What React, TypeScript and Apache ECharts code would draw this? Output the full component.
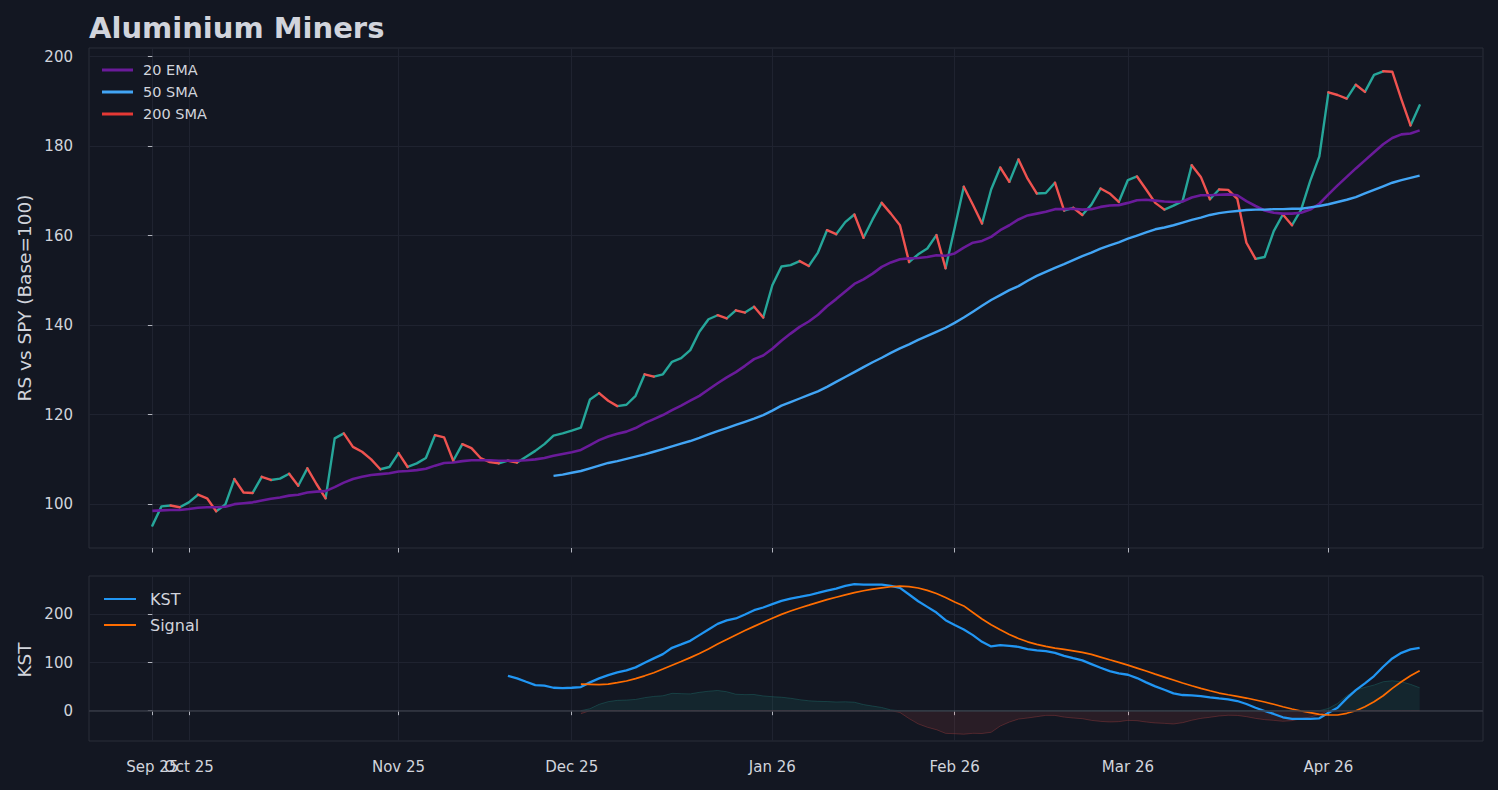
import React, { useEffect, useRef } from "react";
import * as echarts from "echarts";

const tickIdx = [0, 4, 27, 46, 68, 88, 107, 129];
const tickLabels = ["Sep 25", "Oct 25", "Nov 25", "Dec 25", "Jan 26", "Feb 26", "Mar 26", "Apr 26"];
const rsTicks = [100, 120, 140, 160, 180, 200];
const kstTicks = [0, 100, 200];

const rs = [
  95.2, 99.5, 99.7, 99.3, 100.4, 102.1, 101.3, 98.4, 99.9, 105.6,
  102.6, 102.5, 106.1, 105.4, 105.7, 106.8, 104.1, 108.0, 104.5, 101.3,
  114.7, 115.8, 112.8, 111.7, 110.0, 107.8, 108.3, 111.4, 108.3, 109.1,
  110.3, 115.4, 114.9, 109.7, 113.4, 112.5, 110.3, 109.4, 109.1, 109.7,
  109.3, 110.6, 111.9, 113.4, 115.3, 115.8, 116.4, 117.1, 123.4, 124.8,
  123.1, 121.9, 122.2, 124.2, 129.0, 128.5, 129.0, 131.8, 132.6, 134.4,
  138.5, 141.3, 142.2, 141.5, 143.3, 142.8, 144.1, 141.7, 148.9, 153.1,
  153.4, 154.3, 153.2, 156.2, 161.2, 160.3, 163.0, 164.7, 159.5, 163.6,
  167.3, 164.9, 162.3, 154.1, 155.8, 157.1, 160.1, 152.7, 161.7, 170.9,
  166.9, 162.7, 170.3, 175.2, 172.0, 177.0, 172.7, 169.4, 169.5, 171.8,
  165.6, 166.2, 164.6, 166.9, 170.5, 169.4, 167.5, 172.4, 173.2, 170.3,
  167.3, 165.8, 166.7, 167.7, 175.7, 173.1, 168.1, 170.3, 170.2, 168.2,
  158.4, 154.8, 155.2, 161.0, 164.7, 162.3, 165.8, 172.2, 177.7, 192.0,
  191.4, 190.6, 193.7, 192.1, 195.9, 196.7, 196.6, 190.4, 184.6, 189.1,
];

const ema20 = [
  98.5, 98.6, 98.7, 98.7, 98.9, 99.2, 99.3, 99.3, 99.4, 100.0,
  100.2, 100.4, 100.8, 101.2, 101.5, 101.9, 102.1, 102.6, 102.8, 102.9,
  103.8, 104.8, 105.6, 106.1, 106.5, 106.7, 106.9, 107.3, 107.4, 107.6,
  107.9, 108.6, 109.2, 109.3, 109.6, 109.8, 109.8, 109.8, 109.7, 109.7,
  109.7, 109.8, 110.0, 110.3, 110.8, 111.2, 111.6, 112.1, 113.2, 114.3,
  115.1, 115.7, 116.2, 117.0, 118.1, 119.0, 119.9, 121.0, 122.0, 123.1,
  124.2, 125.6, 127.0, 128.3, 129.5, 130.9, 132.4, 133.2, 134.7, 136.5,
  138.1, 139.6, 140.8, 142.3, 144.2, 145.8, 147.5, 149.2, 150.2, 151.5,
  153.0, 154.0, 154.7, 154.9, 155.0, 155.2, 155.6, 155.5, 156.0, 157.3,
  158.4, 158.8, 159.7, 161.2, 162.3, 163.6, 164.5, 164.9, 165.3, 165.9,
  165.9, 166.0, 165.8, 165.9, 166.4, 166.7, 166.8, 167.3, 167.9, 168.0,
  167.8, 167.6, 167.5, 167.6, 168.5, 169.0, 169.0, 169.1, 169.2, 169.0,
  167.7, 166.6, 165.6, 165.1, 164.9, 164.9, 165.1, 165.8, 167.1, 169.2,
  171.2, 173.1, 175.0, 176.8, 178.6, 180.4, 181.8, 182.6, 182.8, 183.5,
];

const sma50Start = 44;
const sma50 = [
  106.3, 106.6, 107.0, 107.4, 108.0, 108.6,
  109.2, 109.6, 110.1, 110.6, 111.1, 111.7, 112.3, 112.9, 113.5, 114.1,
  114.8, 115.6, 116.3, 117.0, 117.7, 118.4, 119.1, 119.9, 120.9, 122.0,
  122.8, 123.6, 124.4, 125.2, 126.2, 127.3, 128.4, 129.5, 130.6, 131.7,
  132.7, 133.8, 134.8, 135.7, 136.7, 137.6, 138.5, 139.4, 140.5, 141.7,
  143.0, 144.3, 145.6, 146.7, 147.8, 148.7, 149.9, 151.0, 151.9, 152.8,
  153.6, 154.5, 155.4, 156.2, 157.1, 157.8, 158.5, 159.3, 160.0, 160.7,
  161.4, 161.8, 162.3, 162.9, 163.5, 164.0, 164.6, 165.0, 165.3, 165.5,
  165.7, 165.8, 165.8, 165.9, 165.9, 166.0, 166.0, 166.3, 166.6, 167.0,
  167.5, 168.0, 168.6, 169.4, 170.2, 171.0, 171.8, 172.4, 172.9, 173.4,
];

const kstStart = 39;
const kst = [
  72.6,
  67.2, 60.2, 53.3, 51.9, 47.7, 47.1, 47.7, 49.2, 58.9, 67.2,
  74.1, 79.7, 83.8, 90.0, 99.6, 108.7, 117.6, 130.7, 137.8, 145.2,
  157.1, 168.9, 180.5, 187.6, 191.7, 200.0, 208.9, 214.5, 221.4, 228.2,
  233.2, 236.5, 240.0, 244.8, 249.8, 253.9, 259.3, 263.0, 262.0, 262.2,
  262.2, 259.3, 255.2, 241.5, 227.6, 215.8, 204.1, 188.2, 178.0, 168.9,
  157.1, 143.2, 133.6, 136.3, 134.9, 132.8, 128.0, 125.3, 123.9, 120.3,
  114.1, 109.3, 104.6, 96.9, 89.2, 82.4, 77.6, 74.7, 67.8, 58.9,
  50.6, 43.6, 36.1, 32.6, 32.0, 30.5, 27.8, 25.7, 23.7, 20.1,
  13.9, 6.2, -0.6, -6.8, -13.7, -17.2, -17.2, -17.2, -15.8, -4.1,
  6.2, 25.7, 42.9, 56.8, 72.0, 91.3, 108.7, 120.3, 127.4, 130.7,
];

const signalStart = 47;
const signal = [
  55.4, 54.8, 54.0,
  55.3, 58.2, 61.7, 66.6, 72.5, 79.0, 86.6, 94.6, 102.4, 110.3,
  118.9, 128.4, 138.5, 148.2, 157.5, 166.6, 175.3, 183.8, 192.3, 200.2,
  207.3, 213.6, 219.4, 225.3, 230.8, 235.8, 240.8, 245.4, 249.3, 252.6,
  255.5, 257.7, 258.9, 257.9, 255.0, 250.2, 243.6, 235.3, 225.8, 217.8,
  204.1, 190.6, 178.5, 168.2, 158.5, 150.2, 143.2, 137.8, 133.6, 130.1,
  127.4, 124.5, 121.2, 117.0, 111.4, 105.8, 100.4, 94.8, 88.6, 82.4,
  76.1, 69.9, 63.7, 57.5, 51.9, 46.5, 41.5, 36.7, 33.2, 29.9,
  26.3, 22.2, 18.0, 13.3, 8.3, 3.5, -0.6, -4.1, -7.5, -8.9,
  -8.9, -5.4, 0.0, 8.3, 18.7, 31.1, 46.5, 60.2, 72.6, 83.0,
];

const BG = "#131722";
const TEXT = "#d1d4dc";
const GRIDC = "#1f2330";
const BORDER = "#2a2e39";
const TICKC = "#b2b5be";
const FONT = "DejaVu Sans";

function pairs(start: number, arr: number[]) {
  return arr.map((v, i) => [start + i, v]);
}

function buildSegments() {
  const up: any[] = [];
  const down: any[] = [];
  let prev: string | null = null;
  for (let i = 0; i < rs.length - 1; i++) {
    const d = rs[i + 1] >= rs[i] ? "up" : "down";
    const arr = d === "up" ? up : down;
    if (d !== prev) {
      if (arr.length) arr.push([i, "-"]);
      arr.push([i, rs[i]]);
    }
    arr.push([i + 1, rs[i + 1]]);
    prev = d;
  }
  return { up, down };
}

function buildHist() {
  const pos: any[] = [];
  const neg: any[] = [];
  signal.forEach((s, i) => {
    const idx = signalStart + i;
    const k = kst[idx - kstStart];
    const h = k - s;
    pos.push([idx, Math.max(h, 0)]);
    neg.push([idx, Math.min(h, 0)]);
  });
  return { pos, neg };
}

export default function App() {
  const ref = useRef<HTMLDivElement>(null);

  useEffect(() => {
    document.body.style.margin = "0";
    document.body.style.background = BG;
    if (!ref.current) return;
    const chart = echarts.init(ref.current, undefined, { renderer: "svg" });
    const seg = buildSegments();
    const hist = buildHist();
    const xMin = -6.95;
    const xMax = rs.length - 1 + 6.95;

    const labelFmt = (v: number) => {
      const k = tickIdx.indexOf(Math.round(v));
      return k >= 0 ? tickLabels[k] : "";
    };

    const xBase = (gi: number, labelVals: number[] | null, ticks: boolean) => ({
      type: "value",
      gridIndex: gi,
      position: "bottom",
      offset: 0,
      min: xMin,
      max: xMax,
      axisLine: { show: false },
      axisTick: {
        show: ticks,
        customValues: tickIdx,
        length: 4.5,
        lineStyle: { color: TICKC, width: 1 },
      },
      axisLabel: {
        show: !!labelVals,
        customValues: labelVals || tickIdx,
        hideOverlap: false,
        showMinLabel: true,
        showMaxLabel: true,
        margin: 18,
        color: TEXT,
        fontFamily: FONT,
        fontSize: 15,
        formatter: labelFmt,
      },
      splitLine: { show: ticks, lineStyle: { color: GRIDC, width: 1 } },
    });

    const yBase = (gi: number, min: number, max: number, ticks: number[]) => ({
      type: "value",
      gridIndex: gi,
      min,
      max,
      axisLine: { show: false },
      axisTick: {
        show: true,
        customValues: ticks,
        length: 4.5,
        lineStyle: { color: TICKC, width: 1 },
      },
      axisLabel: {
        customValues: ticks,
        showMinLabel: true,
        showMaxLabel: true,
        margin: 16,
        color: TEXT,
        fontFamily: FONT,
        fontSize: 15,
        formatter: (v: number) => String(Math.round(v)),
      },
      splitLine: { show: true, lineStyle: { color: GRIDC, width: 1 } },
    });

    const mainLabelVals = tickIdx.filter((v) => v !== 4);

    chart.setOption({
      animation: false,
      backgroundColor: BG,
      textStyle: { fontFamily: FONT },
      title: {
        text: "Aluminium Miners",
        left: 89,
        top: 13,
        padding: 0,
        textStyle: { color: TEXT, fontFamily: FONT, fontSize: 29, fontWeight: "bold" },
      },
      grid: [
        { left: 89, top: 48, width: 1394, height: 500, show: true, borderColor: BORDER, borderWidth: 1, backgroundColor: "transparent", outerBoundsMode: "none" },
        { left: 89, top: 576, width: 1394, height: 165, show: true, borderColor: BORDER, borderWidth: 1, backgroundColor: "transparent", outerBoundsMode: "none" },
      ],
      xAxis: [xBase(0, null, true), xBase(1, mainLabelVals, true), xBase(1, [4], false)],
      yAxis: [yBase(0, 90.2, 201.9, rsTicks), yBase(1, -63, 280, kstTicks)],
      legend: [
        {
          data: ["20 EMA", "50 SMA", "200 SMA"],
          orient: "vertical",
          left: 102,
          top: 62,
          padding: 0,
          itemWidth: 31,
          itemHeight: 3,
          itemGap: 6,
          icon: "rect",
          textStyle: { color: TEXT, fontFamily: FONT, fontSize: 14.5, lineHeight: 16, padding: [0, 0, 0, 5] },
          selectedMode: false,
        },
        {
          data: ["KST", "Signal"],
          orient: "vertical",
          left: 104,
          top: 590,
          padding: 0,
          itemWidth: 32,
          itemHeight: 2,
          itemGap: 8,
          icon: "rect",
          textStyle: { color: TEXT, fontFamily: FONT, fontSize: 16, lineHeight: 18, padding: [0, 0, 0, 9] },
          selectedMode: false,
        },
      ],
      graphic: [
        {
          type: "text",
          x: 24,
          y: 298,
          rotation: Math.PI / 2,
          style: { text: "RS vs SPY (Base=100)", fill: TEXT, font: `18.5px '${FONT}'`, align: "center", verticalAlign: "middle" },
        },
        {
          type: "text",
          x: 24,
          y: 660,
          rotation: Math.PI / 2,
          style: { text: "KST", fill: TEXT, font: `18.5px '${FONT}'`, align: "center", verticalAlign: "middle" },
        },
      ],
      series: [
        {
          name: "RS up",
          type: "line",
          xAxisIndex: 0,
          yAxisIndex: 0,
          data: seg.up,
          showSymbol: false,
          connectNulls: false,
          lineStyle: { color: "#26a69a", width: 2.4, cap: "round", join: "round" },
          itemStyle: { color: "#26a69a" },
          z: 2,
          silent: true,
        },
        {
          name: "RS down",
          type: "line",
          xAxisIndex: 0,
          yAxisIndex: 0,
          data: seg.down,
          showSymbol: false,
          connectNulls: false,
          lineStyle: { color: "#ef5350", width: 2.4, cap: "round", join: "round" },
          itemStyle: { color: "#ef5350" },
          z: 2,
          silent: true,
        },
        {
          name: "20 EMA",
          type: "line",
          xAxisIndex: 0,
          yAxisIndex: 0,
          data: pairs(0, ema20),
          showSymbol: false,
          lineStyle: { color: "#6a1b9a", width: 2.6 },
          itemStyle: { color: "#6a1b9a" },
          z: 3,
          silent: true,
        },
        {
          name: "50 SMA",
          type: "line",
          xAxisIndex: 0,
          yAxisIndex: 0,
          data: pairs(sma50Start, sma50),
          showSymbol: false,
          lineStyle: { color: "#42a5f5", width: 2.4 },
          itemStyle: { color: "#42a5f5" },
          z: 3,
          silent: true,
        },
        {
          name: "200 SMA",
          type: "line",
          xAxisIndex: 0,
          yAxisIndex: 0,
          data: [],
          showSymbol: false,
          lineStyle: { color: "#e53935", width: 2.4 },
          itemStyle: { color: "#e53935" },
        },
        {
          name: "HistPos",
          type: "line",
          xAxisIndex: 1,
          yAxisIndex: 1,
          data: hist.pos,
          showSymbol: false,
          lineStyle: { color: "rgba(38,166,154,0.25)", width: 1 },
          areaStyle: { color: "rgba(38,166,154,0.15)", origin: 0 },
          z: 1,
          silent: true,
          markLine: {
            silent: true,
            symbol: "none",
            label: { show: false },
            lineStyle: { color: "#363a45", width: 1.5, type: "solid" },
            data: [{ yAxis: 0 }],
          },
        },
        {
          name: "HistNeg",
          type: "line",
          xAxisIndex: 1,
          yAxisIndex: 1,
          data: hist.neg,
          showSymbol: false,
          lineStyle: { color: "rgba(239,83,80,0.25)", width: 1 },
          areaStyle: { color: "rgba(239,83,80,0.15)", origin: 0 },
          z: 1,
          silent: true,
        },
        {
          name: "KST",
          type: "line",
          xAxisIndex: 1,
          yAxisIndex: 1,
          data: pairs(kstStart, kst),
          showSymbol: false,
          lineStyle: { color: "#2196f3", width: 2.3 },
          itemStyle: { color: "#2196f3" },
          z: 3,
          silent: true,
        },
        {
          name: "Signal",
          type: "line",
          xAxisIndex: 1,
          yAxisIndex: 1,
          data: pairs(signalStart, signal),
          showSymbol: false,
          lineStyle: { color: "#ff6d00", width: 1.7 },
          itemStyle: { color: "#ff6d00" },
          z: 3,
          silent: true,
        },
      ],
    });
    return () => chart.dispose();
  }, []);

  return <div ref={ref} style={{ width: 1498, height: 790 }} />;
}
